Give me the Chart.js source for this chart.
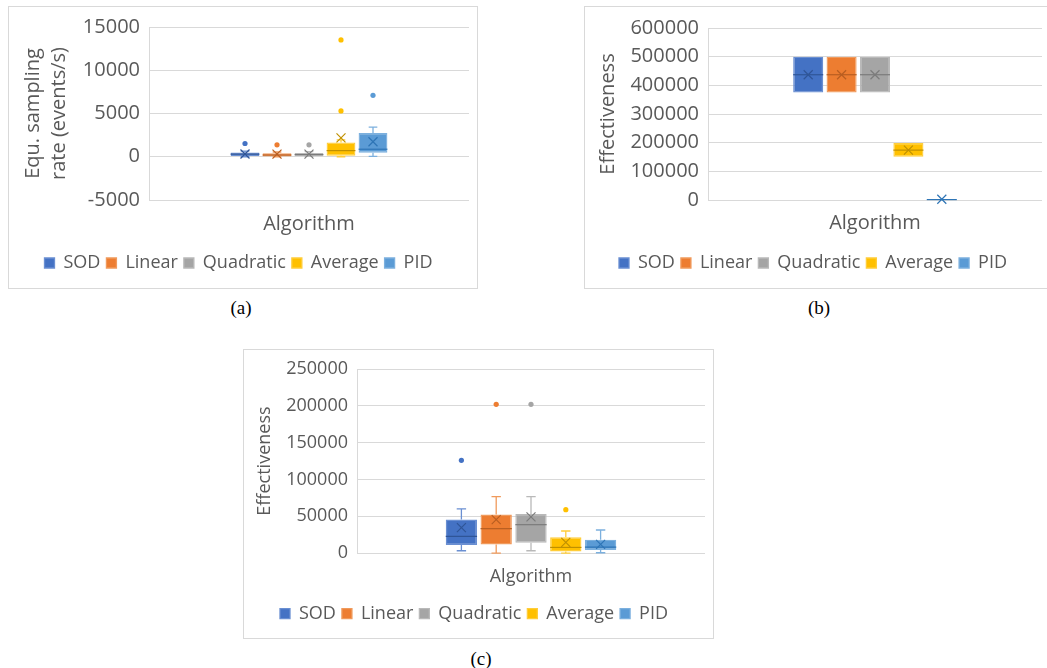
<!DOCTYPE html>
<html>
<head>
<meta charset="utf-8">
<script src="https://cdn.jsdelivr.net/npm/chart.js@4.4.1/dist/chart.umd.min.js"></script>
<style>
  html, body { margin: 0; padding: 0; background: #fff; overflow: hidden; width: 1047px; height: 668px; }
  .frame { position: absolute; border: 1px solid #d9d9d9; box-sizing: border-box; }
  canvas { position: absolute; }
  .caption { position: absolute; font-family: 'Liberation Serif', 'DejaVu Serif', serif; font-size: 19px; line-height: 20px; color: #000; transform: translateX(-50%); }
</style>
</head>
<body>
<div class="frame" style="left:8px;top:6px;width:470px;height:283px"></div>
<div class="frame" style="left:584px;top:6px;width:470px;height:283px"></div>
<div class="frame" style="left:243px;top:349px;width:471px;height:290px"></div>
<canvas id="chartRate" width="469" height="282" style="left:8px;top:6px"></canvas>
<canvas id="chartEffB" width="470" height="282" style="left:584px;top:6px"></canvas>
<canvas id="chartEffC" width="470" height="289" style="left:243px;top:349px"></canvas>
<div class="caption" style="left:241px;top:298px">(a)</div>
<div class="caption" style="left:819px;top:298px">(b)</div>
<div class="caption" style="left:481px;top:649px">(c)</div>
<script>
const seriesNames = ['SOD', 'Linear', 'Quadratic', 'Average', 'PID'];
const seriesFill = ['#4472C4', '#ED7D31', '#A5A5A5', '#FFC000', '#5B9BD5'];
const seriesEdge = ['#6a8fd2', '#f09a5c', '#b9b9b9', '#ffcd3a', '#7cb0de'];
const seriesDark = ['#2f5597', '#b85e21', '#7b7b7b', '#bf9000', '#2e75b6'];

// (a) equivalent sampling rate (events/s)
const rateMin = [0, 0, 40, 0, 40];
const rateQ1 = [100, 30, 50, 120, 470];
const rateMedian = [300, 200, 250, 710, 870];
const rateQ3 = [500, 400, 430, 1650, 2760];
const rateMax = [650, 550, 600, 1950, 3430];
const rateMean = [320, 300, 300, 2180, 1730];
const rateOutliers = [[1530], [1380], [1380], [13500, 5300], [7100]];
const rateTicks = [-5000, 0, 5000, 10000, 15000];

// (b) effectiveness
const effBMin = [375000, 375000, 375000, 151000, 0];
const effBQ1 = [375000, 375000, 375000, 151000, 0];
const effBMedian = [437000, 437000, 437000, 174000, 1500];
const effBQ3 = [500000, 500000, 500000, 199000, 3000];
const effBMax = [500000, 500000, 500000, 199000, 3000];
const effBMean = [437000, 437000, 437000, 174000, 2500];
const effBOutliers = [[], [], [], [], []];
const effBTicks = [0, 100000, 200000, 300000, 400000, 500000, 600000];

// (c) effectiveness
const effCMin = [3200, 0, 3200, 0, 500];
const effCQ1 = [10900, 11800, 14100, 2300, 4100];
const effCMedian = [22700, 33200, 38600, 7700, 8200];
const effCQ3 = [45500, 52300, 53200, 21400, 18200];
const effCMax = [60000, 76800, 76800, 30000, 31400];
const effCMean = [34500, 45500, 49100, 14500, 11800];
const effCOutliers = [[126000], [202000], [202000], [59000], []];
const effCTicks = [0, 50000, 100000, 150000, 200000, 250000];

const fontFamily = "'Open Sans', 'Noto Sans', sans-serif";
const textColor = '#595959';
const gridColor = '#d9d9d9';

// draws whiskers, medians, means and outliers on top of the floating bars
const boxWhiskerPlugin = {
  id: 'boxWhisker',
  afterDatasetsDraw(chart) {
    const ctx = chart.ctx;
    const yScale = chart.scales.y;
    chart.data.datasets.forEach((ds, i) => {
      const bar = chart.getDatasetMeta(i).data[0];
      if (!bar) return;
      const st = ds.stats;
      const x = bar.x;
      const half = bar.width / 2;
      const cap = bar.width * 0.15;
      const py = v => yScale.getPixelForValue(v);
      ctx.save();
      ctx.lineWidth = 1.3;
      ctx.strokeStyle = ds.borderColor;
      ctx.beginPath();
      if (st.max > st.q3) {
        ctx.moveTo(x, py(st.q3));
        ctx.lineTo(x, py(st.max));
        ctx.moveTo(x - cap, py(st.max));
        ctx.lineTo(x + cap, py(st.max));
      }
      if (st.min < st.q1) {
        ctx.moveTo(x, py(st.q1));
        ctx.lineTo(x, py(st.min));
        ctx.moveTo(x - cap, py(st.min));
        ctx.lineTo(x + cap, py(st.min));
      }
      ctx.stroke();
      // median
      ctx.strokeStyle = ds.darkColor;
      ctx.lineWidth = 1.2;
      ctx.beginPath();
      ctx.moveTo(x - half, py(st.median));
      ctx.lineTo(x + half, py(st.median));
      ctx.stroke();
      // mean marker
      const my = py(st.mean);
      const m = 4.5;
      ctx.beginPath();
      ctx.moveTo(x - m, my - m);
      ctx.lineTo(x + m, my + m);
      ctx.moveTo(x - m, my + m);
      ctx.lineTo(x + m, my - m);
      ctx.stroke();
      // outliers
      ctx.fillStyle = ds.backgroundColor;
      for (const v of st.outliers) {
        ctx.beginPath();
        ctx.arc(x, py(v), 2.6, 0, Math.PI * 2);
        ctx.fill();
      }
      ctx.restore();
    });
  }
};

function makeBoxChart(id, stats, ticks, opt) {
  const datasets = seriesNames.map((name, i) => ({
    label: name,
    data: [[stats.q1[i], stats.q3[i]]],
    backgroundColor: seriesFill[i],
    borderColor: seriesEdge[i],
    darkColor: seriesDark[i],
    borderWidth: 1.3,
    borderSkipped: false,
    categoryPercentage: 0.5,
    barPercentage: 0.9,
    stats: {
      min: stats.min[i],
      q1: stats.q1[i],
      median: stats.median[i],
      q3: stats.q3[i],
      max: stats.max[i],
      mean: stats.mean[i],
      outliers: stats.outliers[i]
    }
  }));

  return new Chart(document.getElementById(id), {
    type: 'bar',
    data: { labels: [''], datasets: datasets },
    plugins: [boxWhiskerPlugin],
    options: {
      responsive: false,
      animation: false,
      layout: { padding: { top: opt.padTop, right: opt.padRight, bottom: opt.padBottom, left: 0 } },
      plugins: {
        legend: {
          position: 'bottom',
          labels: {
            boxWidth: 10,
            boxHeight: 10,
            padding: 6,
            color: textColor,
            font: { family: fontFamily, size: 18 }
          }
        },
        tooltip: { enabled: false }
      },
      scales: {
        x: {
          grid: { display: false, drawTicks: false },
          border: { display: false },
          ticks: { display: false },
          title: {
            display: true,
            text: 'Algorithm',
            color: textColor,
            font: { family: fontFamily, size: opt.axisFont },
            padding: { top: opt.xTitleTop, bottom: opt.xTitleBottom }
          }
        },
        y: {
          min: ticks[0],
          max: ticks[ticks.length - 1],
          afterFit: s => { s.width = opt.yWidth; },
          ticks: {
            stepSize: ticks[1] - ticks[0],
            padding: 9,
            color: textColor,
            font: { family: fontFamily, size: opt.tickFont },
            callback: v => String(v)
          },
          grid: { color: gridColor, drawTicks: false },
          border: { color: gridColor },
          title: {
            display: true,
            text: opt.yTitle,
            color: textColor,
            font: { family: fontFamily, size: opt.axisFont, lineHeight: 1.3 },
            padding: { top: opt.yTitlePad }
          }
        }
      }
    }
  });
}

makeBoxChart('chartRate', {
  min: rateMin, q1: rateQ1, median: rateMedian, q3: rateQ3, max: rateMax, mean: rateMean, outliers: rateOutliers
}, rateTicks, {
  padTop: 21, padRight: 8, padBottom: 6, xTitleTop: 12, xTitleBottom: 12,
  yWidth: 141, tickFont: 20, axisFont: 20, yTitlePad: 12,
  yTitle: ['Equ. sampling', 'rate (events/s)']
});

makeBoxChart('chartEffB', {
  min: effBMin, q1: effBQ1, median: effBMedian, q3: effBQ3, max: effBMax, mean: effBMean, outliers: effBOutliers
}, effBTicks, {
  padTop: 22, padRight: 12, padBottom: 6, xTitleTop: 11.7, xTitleBottom: 12.3,
  yWidth: 124, tickFont: 20, axisFont: 20, yTitlePad: 11,
  yTitle: 'Effectiveness'
});

makeBoxChart('chartEffC', {
  min: effCMin, q1: effCQ1, median: effCMedian, q3: effCQ3, max: effCMax, mean: effCMean, outliers: effCOutliers
}, effCTicks, {
  padTop: 20, padRight: 8, padBottom: 5.3, xTitleTop: 12.8, xTitleBottom: 11.2,
  yWidth: 114, tickFont: 18, axisFont: 18, yTitlePad: 10,
  yTitle: 'Effectiveness'
});
</script>
</body>
</html>
